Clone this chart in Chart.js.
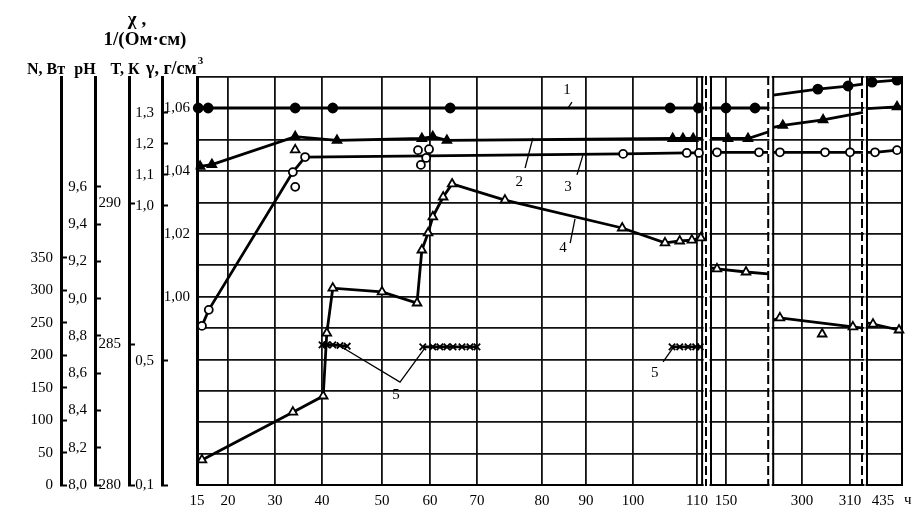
<!DOCTYPE html>
<html>
<head>
<meta charset="utf-8">
<title>Параметры процесса во времени</title>
<script src="https://cdn.jsdelivr.net/npm/chart.js@4.4.1/dist/chart.umd.min.js"></script>
<style>
  html, body { margin: 0; padding: 0; background: #fff; }
  #wrap { width: 916px; height: 520px; }
</style>
</head>
<body>
<div id="wrap"><canvas id="chart" width="916" height="520"></canvas></div>
<script>
// --- ось времени (ч), разорванная на четыре куска ---
const timeTicks = [15, 20, 30, 40, 50, 60, 70, 80, 90, 100, 110, 150, 300, 310, 435];
// место каждой метки вдоль оси (0..AXIS_LEN), шкала нарисована неравномерно
const timeTickPlace = [0, 31, 78, 125, 185, 233, 280, 345, 389, 436, 500, 529, 605, 653, 686];
const timePieces = [[15, 110.8], [147, 158.4], [294, 312.7], [431.8, 438.8]];
const AXIS_LEN = 705;
const PIECE_RATE = 5; // для кусков с одной меткой

// --- подписи левых шкал ---
const nTicks = [0, 50, 100, 150, 200, 250, 300, 350];
const phTicks = [8.0, 8.2, 8.4, 8.6, 8.8, 9.0, 9.2, 9.4, 9.6];
const tTicks = [280, 285, 290];
const chiTicks = [0.1, 0.5, 1.0, 1.1, 1.2, 1.3];
const gammaLabels = [1.00, 1.02, 1.04, 1.06];

// --- кривые: [ч, значение], null = разрыв оси ---
// 1 - T, K
const tempData = [
  [15.2, 293.37], [16.8, 293.37], [34.3, 293.37], [41.8, 293.37], [64.3, 293.37], [105.8, 293.37], [110.2, 293.37], [110.8, 293.37], null,
  [147, 293.37], [150, 293.37], [155.8, 293.37], [158.4, 293.37], null,
  [294, 293.83], [303.3, 294.04], [309.6, 294.15], [312.7, 294.22], null,
  [431.8, 294.29], [432.8, 294.29], [437.8, 294.36], [438.8, 294.4]
];
// 2 - pH
const phData = [
  [15, 9.70], [15.5, 9.71], [17.4, 9.72], [34.3, 9.87], [42.5, 9.85], [58.3, 9.86], [60.6, 9.87], [63.6, 9.85],
  [106.2, 9.86], [107.8, 9.86], [109.4, 9.86], [110.8, 9.86], null,
  [147, 9.86], [150.4, 9.86], [154.4, 9.86], [158.4, 9.895], null,
  [294, 9.92], [296, 9.93], [304.4, 9.96], [312.7, 10.0], null,
  [431.8, 10.02], [437.8, 10.03], [438.8, 10.03]
];
// 3 - γ, г/см3
const gammaData = [
  [15.8, 0.9907], [16.9, 0.9958], [33.8, 1.0397], [36.4, 1.0445], [97.9, 1.0455], [108.4, 1.0458], [110.3, 1.0458], [110.8, 1.0458], null,
  [147, 1.046], [148.2, 1.046], [156.6, 1.046], [158.4, 1.046], null,
  [294, 1.046], [295.4, 1.046], [304.8, 1.046], [310, 1.046], [312.7, 1.046], null,
  [431.8, 1.046], [433.4, 1.046], [437.8, 1.0467], [438.8, 1.0467]
];
const gammaLoose = [[34.3, 1.035], [57.5, 1.0467], [59.8, 1.047], [59.2, 1.0442], [58.1, 1.042]];
// 4 - χ, 1/(Ом·см)
const chiData = [
  [15.8, 0.181], [33.8, 0.335], [40.2, 0.387], [40.8, 0.59], [41.8, 0.735], [50, 0.723], [57.3, 0.687],
  [58.3, 0.858], [59.6, 0.913], [60.6, 0.965], [62.8, 1.029], [64.7, 1.071], [74.3, 1.019], [97.7, 0.929],
  [105, 0.881], [107.3, 0.887], [109.2, 0.89], [110.6, 0.897], null,
  [147, 0.8], [148.2, 0.797], [154, 0.787], [158.4, 0.781], null,
  [294, 0.632], [295.4, 0.639], [310.6, 0.61], [312.7, 0.606], null,
  [431.8, 0.623], [433, 0.619], [438.2, 0.6], [438.8, 0.597]
];
const chiLoose = [[34.3, 1.181], [304.2, 0.587]];
// 5 - N, Вт
const powerData = [
  [40, 216], [40.8, 216], [41.8, 216], [43, 215], [44.2, 214], null,
  [58.5, 213], [60.6, 213], [62.1, 213], [63.6, 213], [64.9, 213], [66.8, 213], [68.5, 213], [70, 213], null,
  [106.1, 213], [107.3, 213], [108.6, 213], [109.8, 213], [110.5, 213]
];

// номера кривых с выносками, в координатах (ч, γ)
const curveNotes = [
  { text: '1', at: [85.7, 1.0659], leader: [[86.8, 1.062], [85.9, 1.0601]] },
  { text: '2', at: [76.5, 1.0365], leader: [[77.4, 1.041], [78.6, 1.0506]] },
  { text: '3', at: [85.9, 1.0349], leader: [[87.95, 1.0388], [89.3, 1.0451]] },
  { text: '4', at: [84.8, 1.0155], leader: [[86.4, 1.0171], [87.5, 1.0248]] },
  { text: '5', at: [52.9, 0.9687], leader: [[43, 0.9843], [53.75, 0.9728], [58.96, 0.9837]] },
  { text: '5', at: [103.4, 0.9757], leader: [[104.7, 0.9792], [106.25, 0.9837]] }
];

const FONT = "'Liberation Serif', 'DejaVu Serif', serif";
Chart.defaults.font.family = FONT;
Chart.defaults.font.size = 15;
Chart.defaults.color = '#000';

const comma = (v, d) => v.toFixed(d).replace('.', ',');
const same = (a, b) => Math.abs(a - b) < 1e-6;

// перевод часов в место на разорванной оси
function hourToPlace(h) {
  let k = timePieces.findIndex(([a, b]) => h >= a - 1e-6 && h <= b + 1e-6);
  if (k < 0) {
    let best = Infinity;
    timePieces.forEach(([a, b], i) => {
      const d = Math.min(Math.abs(h - a), Math.abs(h - b));
      if (d < best) { best = d; k = i; }
    });
  }
  const [a, b] = timePieces[k];
  const idx = timeTicks.map((t, i) => i).filter(i => timeTicks[i] >= a && timeTicks[i] <= b);
  if (idx.length === 1) {
    const i = idx[0];
    return timeTickPlace[i] + (h - timeTicks[i]) * PIECE_RATE;
  }
  let j = 0;
  while (j < idx.length - 2 && h > timeTicks[idx[j + 1]]) j++;
  const i0 = idx[j], i1 = idx[j + 1];
  return timeTickPlace[i0] + (h - timeTicks[i0]) * (timeTickPlace[i1] - timeTickPlace[i0]) / (timeTicks[i1] - timeTicks[i0]);
}

class BrokenTimeScale extends Chart.LinearScale {
  static id = 'brokenTime';
  buildTicks() { return timeTicks.map(value => ({ value })); }
  getPixelForValue(value) { return this.left + hourToPlace(value) / AXIS_LEN * this.width; }
}
Chart.register(BrokenTimeScale);

function toPoints(list) {
  let last = 0;
  return list.map(p => {
    if (p === null) return { x: last, y: null };
    last = p[0];
    return { x: p[0], y: p[1] };
  });
}
const isPieceEnd = h => timePieces.some(([a, b]) => same(h, a) || same(h, b));
const markerSize = r => c => (c.raw && c.raw.y !== null && !isPieceEnd(c.raw.x) ? r : 0);

function curve(label, data, axis, style, r, fill, showLine = true) {
  return {
    label, data: toPoints(data), yAxisID: axis, showLine,
    borderColor: '#000', borderWidth: 2.8, tension: 0, spanGaps: false,
    pointStyle: style, pointRadius: markerSize(r),
    pointBackgroundColor: fill, pointBorderColor: '#000', pointBorderWidth: 1.8
  };
}

function sideScale(weight, width, min, max, ticks, digits) {
  return {
    type: 'linear', position: 'left', weight, min, max,
    afterFit: s => { s.width = width; },
    afterBuildTicks: s => { s.ticks = ticks.map(value => ({ value })); },
    grid: { drawOnChartArea: false, tickLength: -6, tickWidth: 2, tickColor: '#000' },
    border: { color: '#000', width: 3 },
    ticks: { autoSkip: false, padding: 14, callback: v => comma(v, digits) }
  };
}

function vline(ctx, x, y0, y1) {
  ctx.beginPath(); ctx.moveTo(x, y0); ctx.lineTo(x, y1); ctx.stroke();
}

const brokenFrame = {
  id: 'brokenFrame',
  beforeDatasetsDraw(chart) {
    const { ctx, chartArea: a } = chart;
    const x = chart.scales.x;
    ctx.save();
    ctx.strokeStyle = '#000';
    ctx.lineWidth = 2;
    vline(ctx, a.right, a.top - 1, a.bottom + 1);
    for (let i = 0; i < timePieces.length - 1; i++) {
      const p = x.getPixelForValue(timePieces[i][1]);
      const q = x.getPixelForValue(timePieces[i + 1][0]);
      ctx.fillStyle = '#fff';
      ctx.fillRect(p + 1.5, a.top - 3, q - p - 3, a.bottom - a.top + 6);
      ctx.setLineDash([]);
      if (q - p > 6) vline(ctx, p, a.top - 1, a.bottom + 1);
      vline(ctx, q, a.top - 1, a.bottom + 1);
      ctx.setLineDash([9, 4]);
      vline(ctx, q - 5, a.top - 1, a.bottom + 1);
    }
    ctx.restore();
  },
  afterDatasetsDraw(chart) {
    const { ctx } = chart;
    const x = chart.scales.x, y = chart.scales.yGamma;
    ctx.save();
    ctx.strokeStyle = '#000';
    ctx.lineWidth = 1.3;
    ctx.fillStyle = '#000';
    ctx.font = '15px ' + FONT;
    ctx.textAlign = 'center';
    ctx.textBaseline = 'middle';
    curveNotes.forEach(n => {
      ctx.beginPath();
      n.leader.forEach(([h, v], i) => {
        const px = x.getPixelForValue(h), py = y.getPixelForValue(v);
        if (i === 0) ctx.moveTo(px, py); else ctx.lineTo(px, py);
      });
      ctx.stroke();
      ctx.fillText(n.text, x.getPixelForValue(n.at[0]), y.getPixelForValue(n.at[1]));
    });
    ctx.restore();
  },
  afterDraw(chart) {
    const { ctx } = chart;
    const x = chart.scales.x;
    ctx.save();
    ctx.fillStyle = '#000';
    ctx.textBaseline = 'middle';
    ctx.textAlign = 'center';
    ctx.font = 'bold 19px ' + FONT;
    ctx.fillText('χ ,', 137, 20);
    ctx.fillText('1/(Ом·см)', 145, 40);
    ctx.font = 'bold 16px ' + FONT;
    ctx.fillText('N, Вт', 46, 70);
    ctx.fillText('pH', 85, 70);
    ctx.fillText('T, К', 125, 70);
    ctx.textAlign = 'left';
    ctx.font = 'bold 18px ' + FONT;
    const unit = 'γ, г/см';
    ctx.fillText(unit, 146, 69);
    const w = ctx.measureText(unit).width;
    ctx.font = 'bold 11px ' + FONT;
    ctx.fillText('3', 146 + w + 1, 61);
    ctx.font = '15px ' + FONT;
    ctx.fillText('ч', x.right + 2, 500);
    ctx.restore();
  }
};

new Chart(document.getElementById('chart'), {
  type: 'line',
  data: {
    datasets: [
      curve('3', gammaLoose, 'yGamma', 'circle', 4, '#fff', false),
      curve('4', chiLoose, 'yChi', 'triangle', 5, '#fff', false),
      curve('3', gammaData, 'yGamma', 'circle', 4, '#fff'),
      curve('4', chiData, 'yChi', 'triangle', 5, '#fff'),
      curve('2', phData, 'ypH', 'triangle', 5, '#000'),
      curve('1', tempData, 'yT', 'circle', 4.5, '#000'),
      curve('5', powerData, 'yN', 'crossRot', 4.5, '#000')
    ]
  },
  options: {
    responsive: false,
    animation: false,
    events: [],
    layout: { padding: { top: 77, right: 14, bottom: 0, left: 0 } },
    plugins: { legend: { display: false }, tooltip: { enabled: false } },
    scales: {
      x: {
        type: 'brokenTime', position: 'bottom',
        afterFit: s => { s.height = 35; },
        grid: {
          drawTicks: false, lineWidth: 1.8,
          color: c => (c.tick && c.tick.value === 435 ? 'rgba(0,0,0,0)' : '#111')
        },
        border: { color: '#000', width: 2 },
        ticks: { autoSkip: false, maxRotation: 0, padding: 7, callback: v => String(v) }
      },
      yN: sideScale(5, 61, 0, 629, nTicks, 0),
      ypH: sideScale(4, 34, 8, 10.19, phTicks, 1),
      yT: sideScale(3, 34, 280, 294.47, tTicks, 0),
      yChi: sideScale(2, 33, 0.1, 1.416, chiTicks, 1),
      yGamma: {
        type: 'linear', position: 'left', weight: 1, min: 0.94, max: 1.07,
        afterFit: s => { s.width = 35; },
        grid: { color: '#111', lineWidth: 1.8, drawTicks: false },
        border: { color: '#000', width: 3 },
        ticks: {
          autoSkip: false, stepSize: 0.01, padding: 7,
          callback: v => (gammaLabels.some(g => same(g, v)) ? comma(v, 2) : '')
        }
      }
    }
  },
  plugins: [brokenFrame]
});
</script>
</body>
</html>
